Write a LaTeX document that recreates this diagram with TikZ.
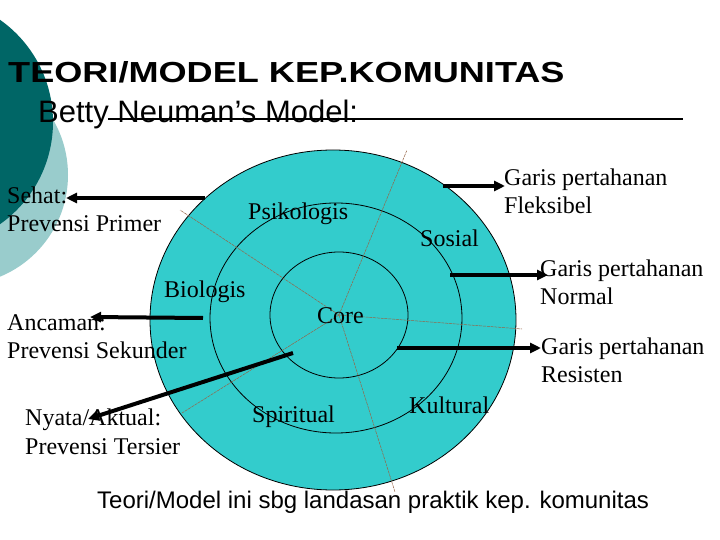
\documentclass[tikz,border=0pt]{standalone}
\usepackage{fontspec}
\setmainfont{Liberation Serif}
\newfontfamily\arialf{Liberation Sans}
\usetikzlibrary{arrows.meta}
\definecolor{darkteal}{RGB}{0,102,102}
\definecolor{lightteal}{RGB}{153,204,204}
\definecolor{ringfill}{RGB}{51,204,204}
\definecolor{divider}{RGB}{150,100,70}
\begin{document}
\begin{tikzpicture}[x=1pt,y=-1pt,
  lbl/.style={font=\fontsize{24}{28}\selectfont, anchor=base west, inner sep=0pt},
  arr/.style={line width=4pt, -{Triangle[length=11pt,width=10pt]}},
  ring/.style={draw=black, line width=0.8pt},
  divline/.style={draw=divider, line width=0.5pt, dash pattern=on 3pt off 0.8pt}]
\useasboundingbox[fill=white] (0,0) rectangle (720,540);
% background circles
\begin{scope}
\clip (0,0) rectangle (720,540);
\fill[lightteal] (-42,175) circle [radius=110pt];
\fill[darkteal] (-72,122) circle [radius=125pt];
\end{scope}
% titles
\node[anchor=base west, inner sep=0pt] (title) at (8,83)
  {\scalebox{1.245}[1]{\arialf\bfseries\fontsize{29}{32}\selectfont TEORI/MODEL KEP.KOMUNITAS}};
\node[anchor=base west, inner sep=0pt] (subtitle) at (38,123)
  {\arialf\fontsize{31}{36}\selectfont Betty Neuman’s Model:};
\coordinate (ulA) at (108,119);
\coordinate (ulB) at (683,119);
\draw[line width=1.8pt] (ulA) -- (ulB);
% rings
\draw[ring, fill=ringfill] (333,320) ellipse [x radius=183pt, y radius=170pt];
\draw[ring] (336,318) ellipse [x radius=126pt, y radius=115pt];
\draw[ring] (339,315) ellipse [x radius=69pt, y radius=63pt];
% dividers
\coordinate (ctr) at (339,315);
\coordinate (d1) at (180,210);
\coordinate (d2) at (407,150);
\coordinate (d3) at (522,329);
\coordinate (d4) at (395,492);
\coordinate (d5) at (182,413);
\foreach \d in {d1,d2,d3,d4,d5} \draw[divline] (ctr) -- (\d);
% ring labels
\node[lbl] (psi) at (248,219) {Psikologis};
\node[lbl] (bio) at (164,297) {Biologis};
\node[lbl] (core) at (317,323) {Core};
\node[lbl] (sos) at (420,246) {Sosial};
\node[lbl] (spi) at (252,422) {Spiritual};
\node[lbl] (kul) at (409,413) {Kultural};
% side labels
\node[lbl] (seh1) at (7,204) {Sehat:};
\node[lbl] (seh2) at (7,232) {Prevensi Primer};
\node[lbl] (anc1) at (7,330) {Ancaman:};
\node[lbl] (anc2) at (7,358) {Prevensi Sekunder};
\node[lbl] (nya1) at (25,425) {Nyata/Aktual:};
\node[lbl] (nya2) at (25,454) {Prevensi Tersier};
\node[lbl] (fle1) at (504,186) {Garis pertahanan};
\node[lbl] (fle2) at (504,214) {Fleksibel};
\node[lbl] (nor1) at (540,276) {Garis pertahanan};
\node[lbl] (nor2) at (540,304) {Normal};
\node[lbl] (res1) at (541,354) {Garis pertahanan};
\node[lbl] (res2) at (541,382) {Resisten};
% arrows
\coordinate (a1s) at (205,198); \coordinate (a1e) at (66,198);
\coordinate (a2s) at (203,318); \coordinate (a2e) at (90,317);
\coordinate (a3s) at (293,353); \coordinate (a3e) at (88,419);
\coordinate (a4s) at (443,186); \coordinate (a4e) at (505,186);
\coordinate (a5s) at (450,275); \coordinate (a5e) at (548,275);
\coordinate (a6s) at (397,348); \coordinate (a6e) at (541,348);
\draw[arr] (a1s) -- (a1e);
\draw[arr] (a2s) -- (a2e);
\draw[arr] (a3s) -- (a3e);
\draw[arr] (a4s) -- (a4e);
\draw[arr] (a5s) -- (a5e);
\draw[arr] (a6s) -- (a6e);
% bottom text
\node[anchor=base west, inner sep=0pt] (bottom) at (97,508)
  {\arialf\fontsize{24}{28}\selectfont Teori/Model ini sbg landasan praktik kep. komunitas};
\end{tikzpicture}
\end{document}
